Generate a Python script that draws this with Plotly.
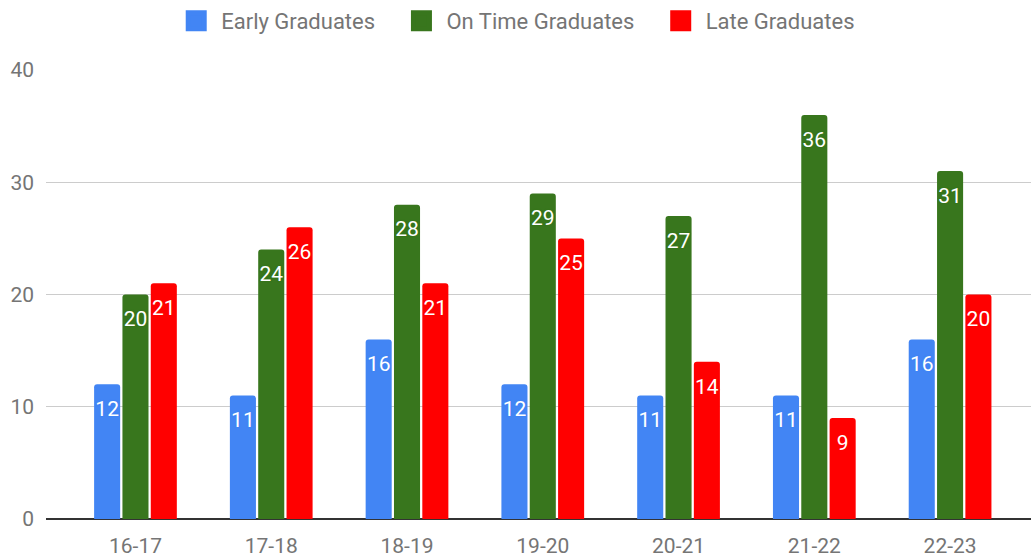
import plotly.graph_objects as go

categories = ["16-17", "17-18", "18-19", "19-20", "20-21", "21-22", "22-23"]
early = [12, 11, 16, 12, 11, 11, 16]
on_time = [20, 24, 28, 29, 27, 36, 31]
late = [21, 26, 21, 25, 14, 9, 20]

series_names = ["Early Graduates", "On Time Graduates", "Late Graduates"]
series_values = [early, on_time, late]
colors = ["#4285F4", "#38761D", "#FF0000"]

FONT = "Roboto"
fig = go.Figure()

for name, vals, c in zip(series_names, series_values, colors):
    fig.add_trace(go.Bar(
        x=categories, y=vals, name=name, marker=dict(color=c, line=dict(width=0)),
        showlegend=False, hoverinfo="x+y+name",
    ))

for name, vals, c in zip(series_names, series_values, colors):
    shadow = ", ".join(f"{dx}px {dy}px 1px {c}" for dx, dy in [(1, 0), (-1, 0), (0, 1), (0, -1)])
    fig.add_trace(go.Scatter(
        x=categories, y=vals, mode="markers+text", text=[str(v) for v in vals],
        textposition="bottom center",
        textfont=dict(family=FONT, size=21, color="white", shadow=shadow),
        marker=dict(size=24, color="rgba(0,0,0,0)"),
        showlegend=False, hoverinfo="skip", cliponaxis=False,
    ))

for name, c in zip(series_names, colors):
    fig.add_trace(go.Scatter(
        x=[None], y=[None], mode="markers", name=name + "\u00a0\u00a0\u00a0",
        xaxis="x2", yaxis="y2",
        marker=dict(symbol="square", size=16, color=c, line=dict(color=c, width=6)),
    ))

fig.update_layout(
    width=1031, height=559,
    margin=dict(l=46, r=0, t=70, b=40),
    paper_bgcolor="white", plot_bgcolor="white",
    barmode="group", bargap=0.374, bargroupgap=0.08, barcornerradius=3,
    scattermode="group", scattergap=0.374,
    font=dict(family=FONT, size=21, color="#757575"),
    legend=dict(orientation="h", x=0.485, xanchor="center", y=1.109, yanchor="middle",
                itemwidth=40,
                font=dict(family=FONT, size=22, color="#757575"), itemclick=False),
    xaxis=dict(range=[-0.659, 6.596], showgrid=False, showline=False, zeroline=False,
               ticks="", tickfont=dict(size=21, color="#757575"), fixedrange=True,
               automargin=False, ticklabelstandoff=12),
    yaxis=dict(range=[0, 40], dtick=10, showgrid=True, gridcolor="#CCCCCC", gridwidth=1,
               zeroline=True, zerolinecolor="#333333", zerolinewidth=2,
               showline=False, ticks="", tickfont=dict(size=21, color="#757575"),
               ticklabelstandoff=11, fixedrange=True, automargin=False),
    xaxis2=dict(overlaying="x", visible=False, range=[0, 1]),
    yaxis2=dict(overlaying="y", visible=False, range=[0, 1]),
)

fig.write_html("out.html", config={"displayModeBar": False},
               post_script="document.body.style.margin='0';document.body.style.padding='0';")
